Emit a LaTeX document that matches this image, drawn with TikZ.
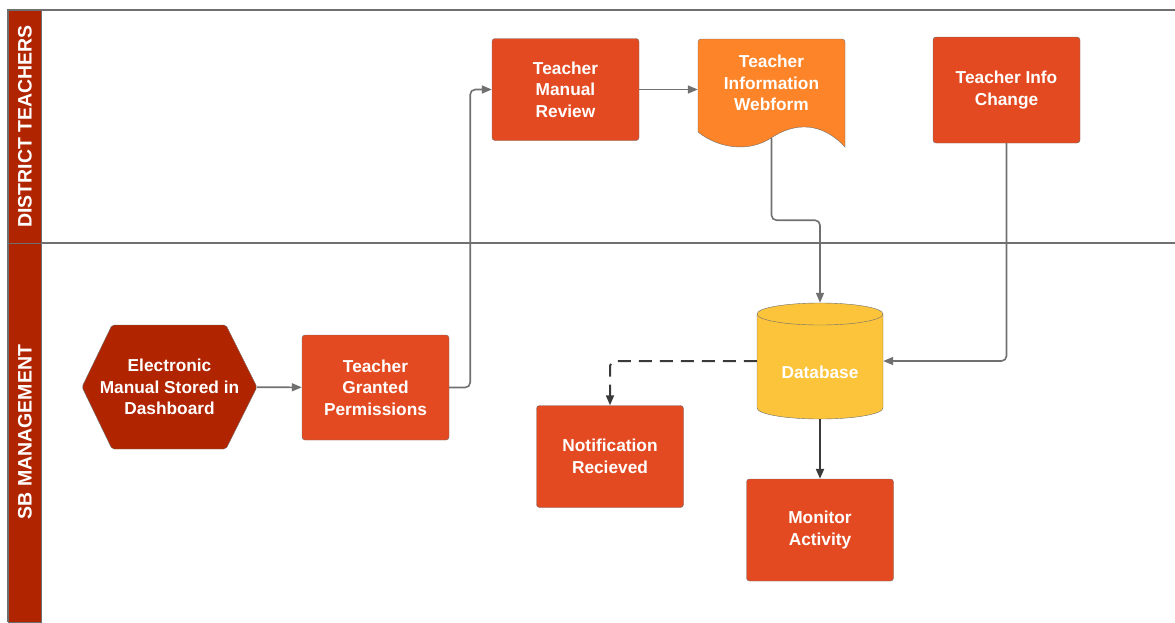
\documentclass[tikz,border=0pt]{standalone}
\usepackage{fontspec}
\setmainfont{Liberation Sans}
\usetikzlibrary{arrows.meta, positioning}
\definecolor{rossoscuro}{HTML}{B02400}
\definecolor{rosso}{HTML}{E44A21}
\definecolor{arancio}{HTML}{FD8428}
\definecolor{giallo}{HTML}{FCC43A}
\definecolor{bordo}{HTML}{6E6E6E}
\definecolor{linea}{HTML}{707070}
\definecolor{scuro}{HTML}{3A3A3A}

\begin{document}
\begin{tikzpicture}[x=1pt, y=-1pt,
    testo/.style={text=white, font=\fontsize{17.3}{21.5}\selectfont\bfseries, align=center},
    passo/.style={testo, draw=bordo, fill=rosso, rounded corners=3pt, minimum width=147pt, minimum height=102pt},
    corsia/.style={text=white, font=\fontsize{19.5}{22}\selectfont\bfseries, rotate=90},
    freccia/.style={draw=linea, line width=1.6pt, rounded corners=5pt, -{Triangle[length=10pt, width=8pt]}}]
        \useasboundingbox (0,0) rectangle (1175,622);

        % Corsie
        \draw[linea, line width=1.8pt] (1175,10) -- (8,10) -- (8,622);
        \draw[linea, line width=1.8pt] (8,243) -- (1175,243);
        \filldraw[fill=rossoscuro, draw=bordo] (8,10) rectangle (41,243);
        \filldraw[fill=rossoscuro, draw=bordo] (8,243) rectangle (41,622);
        \node[corsia] (docenti) at (25,126.5) {DISTRICT TEACHERS};
        \node[corsia] (gestione) at (25,432) {SB MANAGEMENT};

        % Forme
        \filldraw[fill=rossoscuro, draw=bordo, rounded corners=2pt] (82,387) -- (112,325) -- (226,325) -- (257,387) -- (226,449) -- (112,449) -- cycle;
        \filldraw[fill=arancio, draw=bordo] (698,132) -- (698,42) arc[start angle=180, end angle=270, radius=3] -- (842,39) arc[start angle=270, end angle=360, radius=3] -- (845,147) .. controls (822,122) and (795,122) .. (771,138) .. controls (748,153) and (718,148) .. (698,132) -- cycle;
        \filldraw[fill=giallo, draw=bordo] (757,314) -- (757,408) arc[start angle=180, end angle=0, x radius=63, y radius=11] -- (883,314) -- cycle;
        \filldraw[fill=giallo, draw=bordo] (820,314) ellipse [x radius=63, y radius=11];

        % Nodi
        \node[testo, minimum width=175pt, minimum height=124pt] (manuale) at (169.5,387) {Electronic\\Manual Stored in\\Dashboard};
        \node[passo, minimum height=105pt] (permessi) at (375.5,387.5) {Teacher\\Granted\\Permissions};
        \node[passo] (revisione) at (565.5,89.5) {Teacher\\Manual\\Review};
        \node[testo, minimum width=147pt, minimum height=88pt] (webform) at (771.5,83) {Teacher\\Information\\Webform};
        \node[passo, minimum height=106pt] (modifica) at (1006.5,90) {Teacher Info\\Change};
        \node[testo, minimum width=126pt, minimum height=116pt] (database) at (820,361) {\raisebox{-17pt}[0pt][0pt]{Database}};
        \node[passo] (notifica) at (610,456.5) {Notification\\Recieved};
        \node[passo] (monitor) at (820,530) {Monitor\\Activity};

        % Frecce
        \draw[freccia] (manuale) -- (permessi);
        \draw[freccia] (permessi.east) -- ++(21,0) |- (revisione.west);
        \draw[freccia] (revisione.east) -- (revisione.east -| webform.west);
        \draw[freccia] ([yshift=-11pt]webform.south) -- ++(0,82) -| (database.north);
        \draw[freccia] (modifica.south) |- (database.east);
        \draw[freccia, draw=scuro, line width=2pt, dash pattern=on 13pt off 8pt] (database.west) -| (notifica.north);
        \draw[freccia, draw=scuro, line width=2pt] (database.south) -- (monitor.north);
      \end{tikzpicture}
\end{document}
